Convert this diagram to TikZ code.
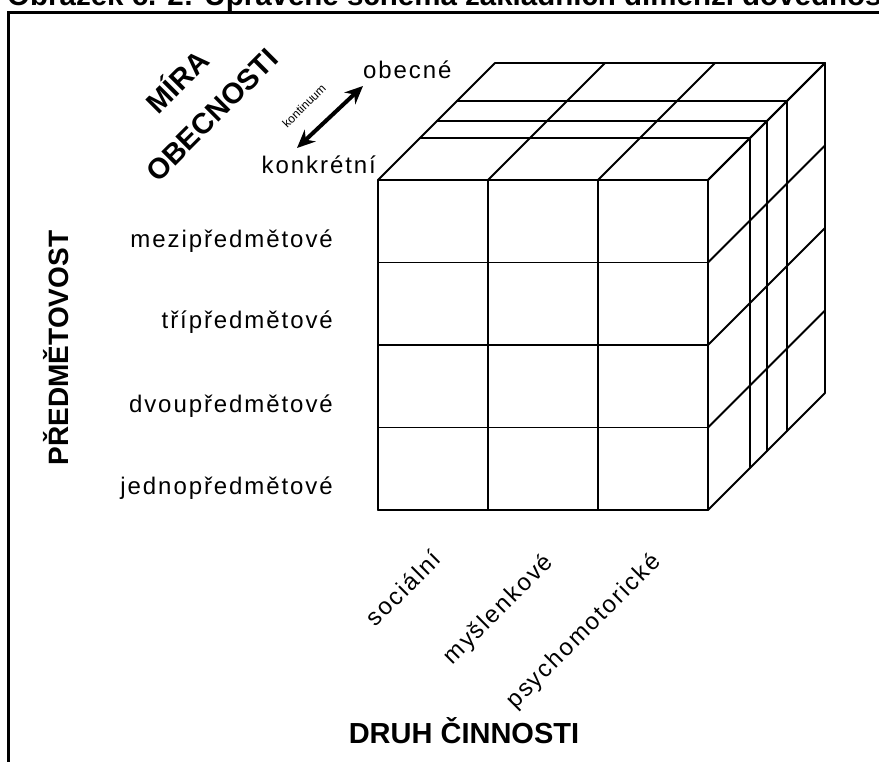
\documentclass[tikz,border=0pt]{standalone}
\usepackage{fontspec}
\setmainfont{Liberation Sans}
\newfontfamily\spacedfont[LetterSpace=8]{Liberation Sans}
\usetikzlibrary{arrows.meta}

\begin{document}
\begin{tikzpicture}[x=1pt, y=-1pt,
        cubeline/.style={line width=1.8pt, line cap=round, line join=round},
        dimlabel/.style={font=\spacedfont\fontsize{24}{28}\selectfont, inner sep=0pt},
        dimtitle/.style={font=\bfseries\fontsize{28}{33}\selectfont, inner sep=0pt}]
    \useasboundingbox (0,0) rectangle (879,762);
    \clip (0,0) rectangle (879,762);

    % title (cut off at the top)
    \node[anchor=base west, inner sep=0pt, font=\bfseries\fontsize{29.5}{35}\selectfont] (title) at (7,6)
        {Obrázek č. 2: Upravené schéma základních dimenzí dovedností};

    % frame
    \draw[line width=3.5pt] (8.5,770) -- (8.5,12.5) -- (885,12.5);

    % front face
    \foreach \i in {0,...,3}
        \draw[cubeline] (378+110*\i,180) -- (378+110*\i,510);
    \foreach \j in {0,...,4}
        \draw[cubeline] (378,180+82.5*\j) -- (708,180+82.5*\j);

    % top face
    \foreach \d in {42,59,79,117}
        \draw[cubeline] (378+\d,180-\d) -- (708+\d,180-\d);
    \foreach \i in {0,...,3}
        \draw[cubeline] (378+110*\i,180) -- ++(117,-117);

    % right face
    \foreach \d in {42,59,79,117}
        \draw[cubeline] (708+\d,180-\d) -- (708+\d,510-\d);
    \foreach \j in {0,...,4}
        \draw[cubeline] (708,180+82.5*\j) -- ++(117,-117);

    % Mira obecnosti
    \node[dimtitle, font=\bfseries\fontsize{29}{34}\selectfont, rotate=45] (mira) at (176,80) {MÍRA};
    \node[dimtitle, font=\bfseries\fontsize{29}{34}\selectfont, rotate=45] (obecnosti) at (212,115) {OBECNOSTI};
    \node[dimlabel, anchor=west] (obecne) at (363,70) {obecné};
    \node[dimlabel, anchor=east] (konkretni) at (376,165) {konkrétní};
    \coordinate (konkr-end) at (297,148);
    \coordinate (obec-end) at (363,86);
    \draw[line width=4pt, {Stealth[length=18pt,width=16pt]}-{Stealth[length=18pt,width=16pt]}] (konkr-end) -- (obec-end);
    \node[inner sep=0pt, font=\fontsize{12}{14}\selectfont, rotate=45] (kontinuum) at (304,106) {kontinuum};

    % predmetovost
    \node[dimtitle, rotate=90] (predmetovost) at (56,348) {PŘEDMĚTOVOST};
    \node[dimlabel, anchor=east] (mezi) at (333,241) {mezipředmětové};
    \node[dimlabel, anchor=east] (tri) at (333,322) {třípředmětové};
    \node[dimlabel, anchor=east] (dvou) at (333,406) {dvoupředmětové};
    \node[dimlabel, anchor=east] (jedno) at (333,488) {jednopředmětové};

    % druh cinnosti
    \node[dimlabel, rotate=45] (socialni) at (403,588) {sociální};
    \node[dimlabel, rotate=45] (myslenkove) at (499,610) {myšlenkové};
    \node[dimlabel, rotate=45] (psychomot) at (584,632) {psychomotorické};
    \node[dimtitle, font=\bfseries\fontsize{29}{34}\selectfont] (druh) at (464,731) {DRUH ČINNOSTI};
\end{tikzpicture}
\end{document}
